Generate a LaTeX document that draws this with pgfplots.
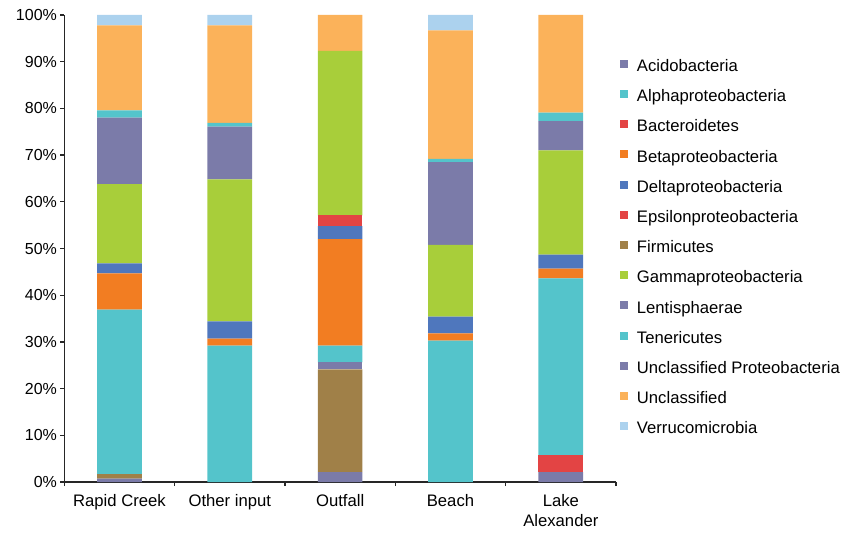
\documentclass[border=0pt]{standalone}
\usepackage{pgfplots}
\usepackage{pgfplotstable}
\pgfplotsset{compat=1.18}
\usepackage{fontspec}
\setmainfont{Liberation Sans}
\definecolor{cP}{HTML}{7B7BA9}
\definecolor{cT}{HTML}{54C4CB}
\definecolor{cR}{HTML}{E34444}
\definecolor{cO}{HTML}{F27D22}
\definecolor{cB}{HTML}{4F77BD}
\definecolor{cBr}{HTML}{A08048}
\definecolor{cG}{HTML}{A8CE3A}
\definecolor{cU}{HTML}{FBB25A}
\definecolor{cV}{HTML}{ACD2EE}
% stacking order (bottom to top)
\pgfplotstableread{
x  Acido Bacte Firmi Lenti Alpha Beta Delta Epsil Gamma UnPro Tener Uncl Verru
0  0.7   0     1.0   0     35.2  7.8  2.1   0     17.0  14.2  1.6   18.2 2.2
1  0     0     0     0     29.2  1.5  3.7   0     30.4  11.3  0.8   20.9 2.2
2  2.1   0     22.0  1.5   3.6   22.8 2.8   2.3   35.2  0     0     7.7  0
3  0     0     0     0     30.3  1.5  3.6   0     15.4  17.7  0.7   27.5 3.3
4  2.1   3.7   0     0     37.8  2.1  3.0   0     22.3  6.3   1.8   20.9 0
}\datatable
\begin{document}
\begin{tikzpicture}
\begin{axis}[
  at={(0,0)}, anchor=south west,
  scale only axis,
  width=413.8pt, height=350.25pt,
  ybar stacked,
  bar width=33.5pt,
  xmin=-0.5, xmax=4.5,
  ymin=0, ymax=100,
  axis x line*=bottom, axis y line*=left,
  axis line style={-, line width=0.9pt, black!85},
  tick align=outside,
  major tick length=3pt,
  tick style={line width=0.9pt, black!85},
  xtick={-0.5,0.5,1.5,2.5,3.5,4.5},
  xticklabels={},
  extra x ticks={0,1,2,3,4},
  extra x tick labels={Rapid Creek,Other input,Outfall,Beach,{Lake\\Alexander}},
  extra x tick style={major tick length=0pt, tick style={draw=none}},
  xticklabel style={align=center, font=\fontsize{12.5}{14.5}\selectfont, yshift=-6pt},
  ytick={0,10,...,100},
  yticklabels={0\%,10\%,20\%,30\%,40\%,50\%,60\%,70\%,80\%,90\%,100\%},
  yticklabel style={font=\fontsize{12}{14}\selectfont, xshift=1pt},
  legend style={at={(1,0.5045)}, anchor=west, xshift=3pt, yshift=-1.5pt, draw=none, fill=none,
    inner sep=0pt, row sep=11.15pt, column sep=6.5pt,
    font=\fontsize{12.5}{14}\selectfont,
    nodes={inner sep=0pt, text height=9pt, text depth=2.5pt}},
  legend cell align=left,
  legend image code/.code={\fill[#1] (0pt,-0.5pt) rectangle (6pt,5.5pt);},
  clip=false,
]
\addlegendimage{fill=cP, draw=none}\addlegendentry{Acidobacteria}
\addlegendimage{fill=cT, draw=none}\addlegendentry{Alphaproteobacteria}
\addlegendimage{fill=cR, draw=none}\addlegendentry{Bacteroidetes}
\addlegendimage{fill=cO, draw=none}\addlegendentry{Betaproteobacteria}
\addlegendimage{fill=cB, draw=none}\addlegendentry{Deltaproteobacteria}
\addlegendimage{fill=cR, draw=none}\addlegendentry{Epsilonproteobacteria}
\addlegendimage{fill=cBr, draw=none}\addlegendentry{Firmicutes}
\addlegendimage{fill=cG, draw=none}\addlegendentry{Gammaproteobacteria}
\addlegendimage{fill=cP, draw=none}\addlegendentry{Lentisphaerae}
\addlegendimage{fill=cT, draw=none}\addlegendentry{Tenericutes}
\addlegendimage{fill=cP, draw=none}\addlegendentry{Unclassified Proteobacteria}
\addlegendimage{fill=cU, draw=none}\addlegendentry{Unclassified}
\addlegendimage{fill=cV, draw=none}\addlegendentry{Verrucomicrobia}
\addplot[fill=cP, draw=none] table[x=x, y=Acido] {\datatable};
\addplot[fill=cR, draw=none] table[x=x, y=Bacte] {\datatable};
\addplot[fill=cBr, draw=none] table[x=x, y=Firmi] {\datatable};
\addplot[fill=cP, draw=none] table[x=x, y=Lenti] {\datatable};
\addplot[fill=cT, draw=none] table[x=x, y=Alpha] {\datatable};
\addplot[fill=cO, draw=none] table[x=x, y=Beta] {\datatable};
\addplot[fill=cB, draw=none] table[x=x, y=Delta] {\datatable};
\addplot[fill=cR, draw=none] table[x=x, y=Epsil] {\datatable};
\addplot[fill=cG, draw=none] table[x=x, y=Gamma] {\datatable};
\addplot[fill=cP, draw=none] table[x=x, y=UnPro] {\datatable};
\addplot[fill=cT, draw=none] table[x=x, y=Tener] {\datatable};
\addplot[fill=cU, draw=none] table[x=x, y=Uncl] {\datatable};
\addplot[fill=cV, draw=none] table[x=x, y=Verru] {\datatable};
\end{axis}
\path (-48.2pt,-37.5pt) rectangle (583.3pt,361.5pt);
\end{tikzpicture}
\end{document}
